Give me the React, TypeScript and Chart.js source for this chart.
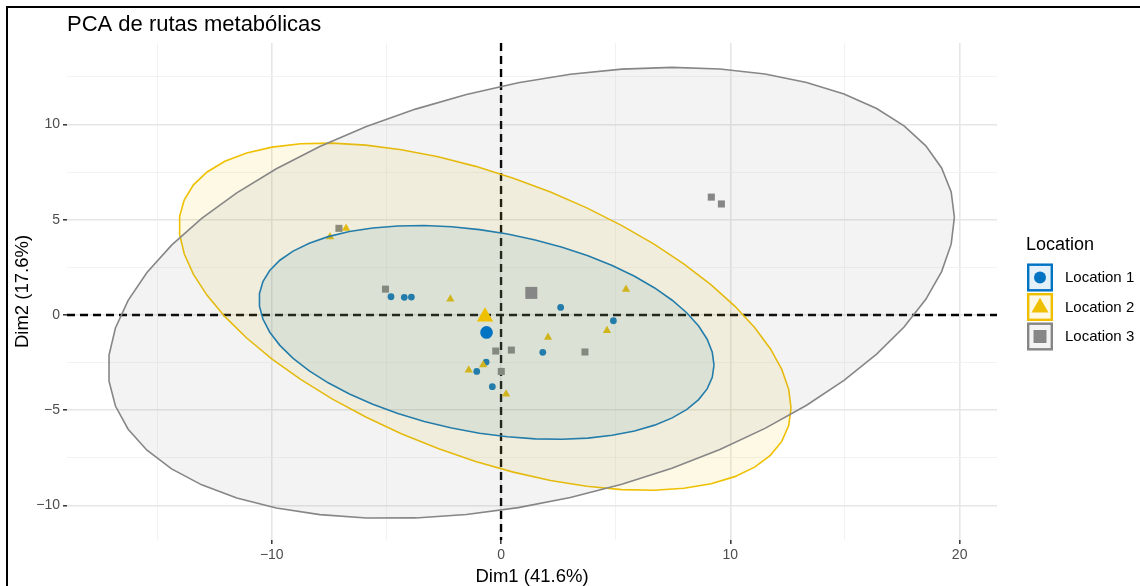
import React, { useEffect, useRef } from "react";
import { Chart, registerables } from "chart.js";

Chart.register(...registerables);

// ---- data ----
const groupNames = ["Location 1", "Location 2", "Location 3"];
const groupColors = ["#0073C2", "#EFC000", "#868686"];
const groupShapes = ["circle", "triangle", "rect"];

const loc1X = [-4.8, -4.22, -3.91, 2.6, 4.9, 1.82, -0.65, -1.06, -0.38];
const loc1Y = [0.96, 0.93, 0.94, 0.4, -0.3, -1.96, -2.47, -2.96, -3.76];
const loc2X = [-7.46, -6.76, -2.21, 5.45, 4.62, 2.05, -1.41, -0.78, 0.22];
const loc2Y = [4.11, 4.55, 0.84, 1.35, -0.82, -1.17, -2.89, -2.62, -4.15];
const loc3X = [-7.07, -5.04, -0.23, 0.45, 0.01, 3.66, 9.17, 9.61];
const loc3Y = [4.55, 1.36, -1.89, -1.84, -2.96, -1.94, 6.19, 5.83];

const xTicks = [-15, -10, -5, 0, 5, 10, 15, 20];
const xMajor = [-10, 0, 10, 20];
const yTicks = [-10, -7.5, -5, -2.5, 0, 2.5, 5, 7.5, 10, 12.5];
const yMajor = [-10, -5, 0, 5, 10];
const xRange = [-18.93, 21.63];
const yRange = [-11.81, 14.28];

const title = "PCA de rutas metabólicas";
const xTitle = "Dim1 (41.6%)";
const yTitle = "Dim2 (17.6%)";
const legendTitle = "Location";

const FONT = "'Liberation Sans', Arial, Helvetica, sans-serif";

function mean(a: number[]) {
  return a.reduce((s, v) => s + v, 0) / a.length;
}

// 95% normal data ellipse, as in ggplot2::stat_ellipse(type = "norm")
function ellipse(xs: number[], ys: number[]) {
  const n = xs.length;
  const mx = mean(xs);
  const my = mean(ys);
  let sxx = 0, syy = 0, sxy = 0;
  for (let i = 0; i < n; i++) {
    sxx += (xs[i] - mx) ** 2;
    syy += (ys[i] - my) ** 2;
    sxy += (xs[i] - mx) * (ys[i] - my);
  }
  sxx /= n - 1; syy /= n - 1; sxy /= n - 1;
  const dfd = n - 1;
  const fq = (dfd / 2) * (Math.pow(0.05, -2 / dfd) - 1);
  const radius = Math.sqrt(2 * fq);
  const u11 = Math.sqrt(sxx);
  const u12 = sxy / u11;
  const u22 = Math.sqrt(syy - u12 * u12);
  const pts: { x: number; y: number }[] = [];
  const seg = 51;
  for (let k = 0; k <= seg; k++) {
    const a = (k * 2 * Math.PI) / seg;
    const c = Math.cos(a), s = Math.sin(a);
    pts.push({ x: mx + radius * c * u11, y: my + radius * (c * u12 + s * u22) });
  }
  return pts;
}

function hexA(hex: string, a: number) {
  const r = parseInt(hex.slice(1, 3), 16);
  const g = parseInt(hex.slice(3, 5), 16);
  const b = parseInt(hex.slice(5, 7), 16);
  return `rgba(${r},${g},${b},${a})`;
}

function drawSymbol(ctx: CanvasRenderingContext2D, shape: string, x: number, y: number, size: number, color: string) {
  ctx.fillStyle = color;
  ctx.beginPath();
  if (shape === "circle") {
    ctx.arc(x, y, size / 2, 0, Math.PI * 2);
  } else if (shape === "triangle") {
    const h = size * 0.866;
    ctx.moveTo(x, y - h * 0.62);
    ctx.lineTo(x + size / 2, y + h * 0.38);
    ctx.lineTo(x - size / 2, y + h * 0.38);
    ctx.closePath();
  } else {
    ctx.rect(x - size / 2, y - size / 2, size, size);
  }
  ctx.fill();
}

const customPlugin = {
  id: "customDecor",
  beforeDatasetsDraw(chart: any) {
    const ctx = chart.ctx as CanvasRenderingContext2D;
    const { left, right, top, bottom } = chart.chartArea;
    const xs = chart.scales.x, ys = chart.scales.y;
    const x0 = xs.getPixelForValue(0);
    const y0 = ys.getPixelForValue(0);
    ctx.save();
    ctx.strokeStyle = "#000";
    ctx.lineWidth = 2.4;
    ctx.setLineDash([8, 5]);
    ctx.beginPath();
    ctx.moveTo(left, y0);
    ctx.lineTo(right, y0);
    ctx.stroke();
    ctx.beginPath();
    ctx.moveTo(x0, top);
    ctx.lineTo(x0, bottom);
    ctx.stroke();
    ctx.restore();
  },
  afterDraw(chart: any) {
    const ctx = chart.ctx as CanvasRenderingContext2D;
    const { left, right, top, bottom } = chart.chartArea;
    ctx.save();
    // frame (top and left black edge)
    ctx.fillStyle = "#000";
    ctx.fillRect(6, 6, 1134, 2);
    ctx.fillRect(6, 6, 2, 580);
    // title
    ctx.fillStyle = "#000";
    ctx.font = `22px ${FONT}`;
    ctx.textAlign = "left";
    ctx.textBaseline = "alphabetic";
    ctx.fillText(title, left, 31);
    // axis titles
    ctx.font = `18.5px ${FONT}`;
    ctx.textAlign = "center";
    ctx.textBaseline = "alphabetic";
    ctx.fillText(xTitle, (left + right) / 2, 582);
    ctx.save();
    ctx.translate(28, (top + bottom) / 2);
    ctx.rotate(-Math.PI / 2);
    ctx.textBaseline = "alphabetic";
    ctx.fillText(yTitle, 0, 0);
    ctx.restore();
    // legend
    ctx.font = `18px ${FONT}`;
    ctx.textAlign = "left";
    ctx.fillText(legendTitle, 1026, 250);
    const symSizes = [12, 17, 13];
    for (let i = 0; i < groupNames.length; i++) {
      const ky = 263.5 + i * 29.5;
      const kx = 1027;
      ctx.fillStyle = "#fff";
      ctx.fillRect(kx, ky, 26, 28);
      ctx.fillStyle = hexA(groupColors[i], 0.1);
      ctx.fillRect(kx, ky, 26, 28);
      ctx.strokeStyle = groupColors[i];
      ctx.lineWidth = 2.4;
      ctx.strokeRect(kx + 1.2, ky + 1.2, 26 - 2.4, 28 - 2.4);
      drawSymbol(ctx, groupShapes[i], kx + 13, ky + 14, symSizes[i], groupColors[i]);
      ctx.fillStyle = "#000";
      ctx.font = `15px ${FONT}`;
      ctx.textBaseline = "middle";
      ctx.fillText(groupNames[i], 1065, ky + 14.5);
    }
    ctx.restore();
  },
};

export default function App() {
  const ref = useRef<HTMLCanvasElement | null>(null);

  useEffect(() => {
    document.body.style.margin = "0";
    const canvas = ref.current;
    if (!canvas) return;

    const groupsX = [loc1X, loc2X, loc3X];
    const groupsY = [loc1Y, loc2Y, loc3Y];
    const pointRadius = [3.4, 4.8, 5];
    const centroidRadius = [6.3, 9.5, 8.5];

    const datasets: any[] = [];
    // individual points (drawn first)
    for (let g = 0; g < 3; g++) {
      datasets.push({
        type: "scatter",
        label: groupNames[g],
        data: groupsX[g].map((x, i) => ({ x, y: groupsY[g][i] })),
        pointStyle: groupShapes[g],
        pointRadius: pointRadius[g],
        pointBackgroundColor: groupColors[g],
        pointBorderWidth: 0,
        order: 10 - g,
      });
    }
    // ellipses (blue first, grey last on top)
    for (let g = 0; g < 3; g++) {
      datasets.push({
        type: "line",
        label: groupNames[g] + " ellipse",
        data: ellipse(groupsX[g], groupsY[g]),
        showLine: true,
        pointRadius: 0,
        borderColor: groupColors[g],
        borderWidth: 1.6,
        backgroundColor: hexA(groupColors[g], 0.1),
        fill: "shape",
        tension: 0,
        order: 7 - g,
      });
    }
    // group centroids
    for (let g = 0; g < 3; g++) {
      datasets.push({
        type: "scatter",
        label: groupNames[g] + " mean",
        data: [{ x: mean(groupsX[g]), y: mean(groupsY[g]) }],
        pointStyle: groupShapes[g],
        pointRadius: centroidRadius[g],
        pointBackgroundColor: groupColors[g],
        pointBorderWidth: 0,
        order: 3 - g,
      });
    }

    const chart = new Chart(canvas, {
      type: "scatter",
      data: { datasets },
      plugins: [customPlugin],
      options: {
        responsive: false,
        animation: false,
        events: [],
        layout: { padding: { left: 0, top: 43, right: 143, bottom: 0 } },
        plugins: { legend: { display: false }, tooltip: { enabled: false }, title: { display: false } },
        scales: {
          x: {
            type: "linear",
            min: xRange[0],
            max: xRange[1],
            afterBuildTicks: (s: any) => {
              s.ticks = xTicks.map((v) => ({ value: v }));
            },
            afterFit: (s: any) => {
              s.height = 46;
            },
            border: { display: false },
            grid: {
              color: (c: any) => (c.tick && xMajor.includes(c.tick.value) ? "#e6e6e6" : "#f0f0f0"),
              lineWidth: (c: any) => (c.tick && xMajor.includes(c.tick.value) ? 1.6 : 0.9),
              tickColor: (c: any) => (c.tick && xMajor.includes(c.tick.value) ? "#333333" : "rgba(0,0,0,0)"),
              tickLength: 4,
              tickWidth: 1.5,
            },
            ticks: {
              autoSkip: false,
              maxRotation: 0,
              padding: 3,
              color: "#4d4d4d",
              font: { family: FONT, size: 14 },
              callback: (v: any) => (xMajor.includes(Number(v)) ? String(v).replace("-", "\u2212") : ""),
            },
          },
          y: {
            type: "linear",
            min: yRange[0],
            max: yRange[1],
            afterBuildTicks: (s: any) => {
              s.ticks = yTicks.map((v) => ({ value: v }));
            },
            afterFit: (s: any) => {
              s.width = 67;
            },
            border: { display: false },
            grid: {
              color: (c: any) => (c.tick && yMajor.includes(c.tick.value) ? "#e6e6e6" : "#f0f0f0"),
              lineWidth: (c: any) => (c.tick && yMajor.includes(c.tick.value) ? 1.6 : 0.9),
              tickColor: (c: any) => (c.tick && yMajor.includes(c.tick.value) ? "#333333" : "rgba(0,0,0,0)"),
              tickLength: 4,
              tickWidth: 1.5,
            },
            ticks: {
              autoSkip: false,
              padding: 3,
              color: "#4d4d4d",
              font: { family: FONT, size: 14 },
              callback: (v: any) => (yMajor.includes(Number(v)) ? String(v).replace("-", "\u2212") : ""),
            },
          },
        },
      } as any,
    });

    return () => chart.destroy();
  }, []);

  return (
    <div style={{ position: "fixed", left: 0, top: 0, width: 1140, height: 586, background: "#fff" }}>
      <canvas ref={ref} width={1140} height={586} style={{ display: "block" }} />
    </div>
  );
}
